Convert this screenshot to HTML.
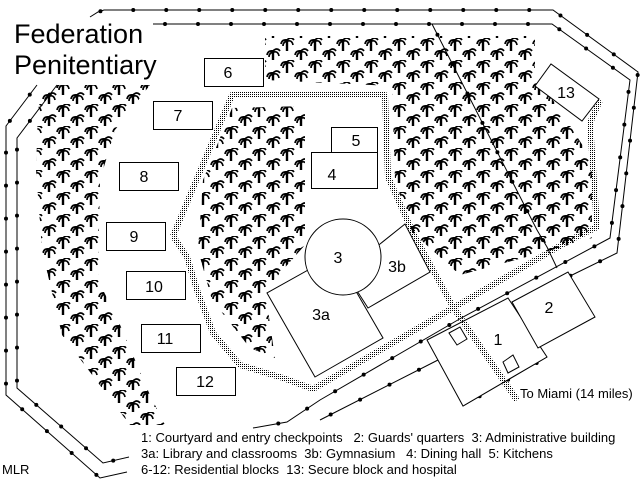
<!DOCTYPE html>
<html><head><meta charset="utf-8"><style>
html,body{margin:0;padding:0;background:#fff}
svg{display:block}
text{font-family:"Liberation Sans",Arial,sans-serif;fill:#000}
</style></head><body>
<svg width="640" height="480" viewBox="0 0 640 480" xmlns="http://www.w3.org/2000/svg">
<defs>
<pattern id="dots" width="2" height="2" patternUnits="userSpaceOnUse"><rect width="1" height="1" fill="#000"/></pattern>
<g id="palm"><path d="M0,0 v12" stroke="#000" stroke-width="2.4"/><path d="M-6,5 q1,-5 6,-4 M-4,7 q0,-4 4,-5 M0,1 q4,-4 7,0 M1,2 q4,-1 5,4" stroke="#000" stroke-width="1.7" fill="none"/></g>
<pattern id="palms" x="0" y="38" width="28" height="22" patternUnits="userSpaceOnUse">
<use href="#palm" x="7" y="1"/><use href="#palm" x="21" y="12"/><use href="#palm" x="-7" y="12"/>
</pattern>
</defs>
<rect width="640" height="480" fill="#fff"/>
<g fill="url(#palms)" stroke="none">
<polygon points="44,85 150,85 115,130 100,180 98,280 118,320 150,395 165,425 130,425 62,335 42,250 36,170 38,110"/>
<polygon points="232,108 305,106 305,245 265,290 275,358 250,348 212,300 198,250 203,180"/>
<polygon points="265,36 535,36 535,75 560,110 592,160 592,238 545,252 460,275 412,232 395,180 392,86 265,80"/>
</g>
<g fill="none" stroke="url(#dots)" stroke-width="6" stroke-linejoin="round">
<path d="M173,236 L232,95 L385,95 L388,177 L413,233 L453,307 L517,400"/>
<path d="M173,236 L187,257 L197,290 L213,333 L240,365 L283,378 L313,389 L320,385 L570,240 L597,227 L590,123 L600,100"/>
</g>
<g fill="none" stroke="#000">
<g stroke-width="1">
<polyline points="90,17 98,12 104,10 553,10 638,72 617,253 568,277"/>
<polyline points="153,24 552,24 630,80 610,238 463,317 320,400 287,422 253,428"/>
<polyline points="37,85 6,126 6,395 100,478 127,472"/>
<polyline points="57,85 17,138 17,388 103,463 129,457"/>
<polyline points="320,420 438,360"/>
<polyline points="547,357 463,406"/>
<polyline points="432,24 537,230 547,247 557,268"/>
</g>
<g stroke-width="4" stroke-linecap="round" stroke-dasharray="0 33" stroke-dashoffset="-12">
<polyline points="90,17 98,12 104,10 553,10 638,72 617,253 568,277"/>
<polyline points="153,24 552,24 630,80 610,238 463,317 320,400 287,422 253,428"/>
<polyline points="37,85 6,126 6,395 100,478 127,472"/>
<polyline points="57,85 17,138 17,388 103,463 129,457"/>
<polyline points="320,420 438,360"/>
<polyline points="547,357 463,406"/>
<polyline points="432,24 537,230 547,247 557,268"/>
</g>
</g>
<g fill="#fff" stroke="#000" stroke-width="1">
<rect x="204.5" y="58.5" width="59" height="28"/>
<rect x="153.5" y="101.5" width="59" height="28"/>
<rect x="119.5" y="162.5" width="59" height="28"/>
<rect x="106.5" y="222.5" width="59" height="28"/>
<rect x="126.5" y="271.5" width="59" height="28"/>
<rect x="141.5" y="324.5" width="59" height="28"/>
<rect x="176.5" y="367.5" width="59" height="28"/>
<rect x="331.5" y="127.5" width="46" height="25"/>
<rect x="311.5" y="152.5" width="66" height="36"/>
<polygon points="345,272 368,308 430,272 405,224"/>
<polygon points="267,293 315,377 383,338 335,255"/>
<circle cx="343" cy="257" r="38"/>
<polygon points="535,86 551,64 599,99 582,121"/>
<polygon points="427,340 463,406 547,357 508,298"/>
<polygon points="512,302 568,272 595,317 538,348"/>
<polygon points="449,333 460,327 467,339 457,345"/>
<polygon points="503,362 513,355 519,367 508,373"/>
</g>
<g fill="none" stroke="url(#dots)" stroke-width="6">
<path d="M453,307 L517,400"/>
</g>
<g font-size="16" text-anchor="middle">
<text x="228" y="78">6</text><text x="178" y="121">7</text><text x="144" y="182">8</text>
<text x="134" y="242">9</text><text x="154" y="292">10</text><text x="165" y="344">11</text>
<text x="205" y="387">12</text><text x="356" y="146">5</text><text x="332" y="180">4</text>
<text x="338" y="263">3</text><text x="397" y="272">3b</text><text x="321" y="320">3a</text>
<text x="566" y="98">13</text><text x="498" y="345">1</text><text x="549" y="313">2</text>
</g>
<text x="14" y="43" font-size="27">Federation</text>
<text x="14" y="74" font-size="27">Penitentiary</text>
<text x="520" y="398" font-size="13">To Miami (14 miles)</text>
<g font-size="13">
<text x="141" y="442" xml:space="preserve">1: Courtyard and entry checkpoints   2: Guards' quarters  3: Administrative building</text>
<text x="141" y="458" xml:space="preserve">3a: Library and classrooms  3b: Gymnasium   4: Dining hall  5: Kitchens</text>
<text x="141" y="474" xml:space="preserve">6-12: Residential blocks  13: Secure block and hospital</text>
</g>
<text x="2" y="474" font-size="13">MLR</text>
</svg>
</body></html>
